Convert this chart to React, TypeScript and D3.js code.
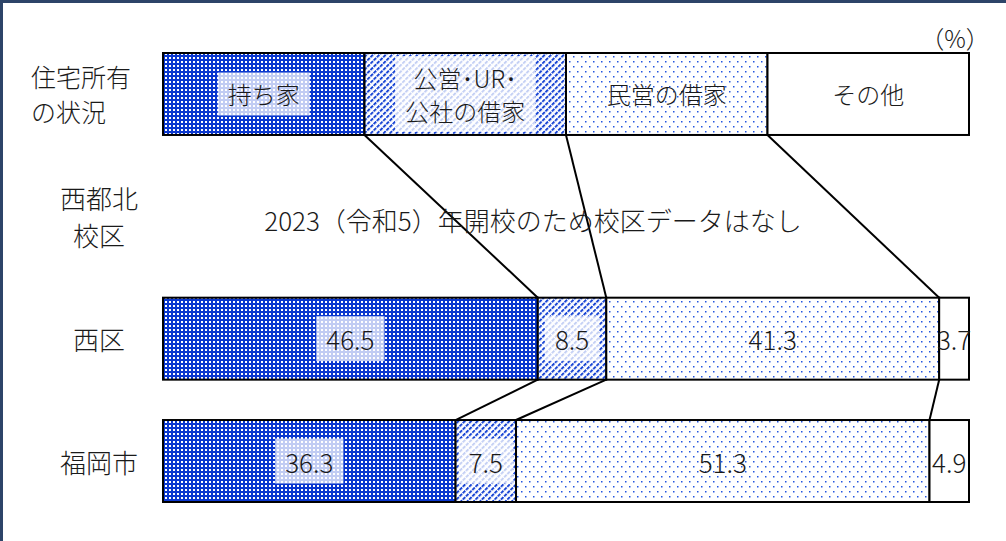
import React, { useRef, useEffect } from "react";
import { select, scaleLinear, scaleBand } from "d3";

// rows of the chart (top row is the legend row)
const categories = ["住宅所有の状況", "西都北校区", "西区", "福岡市"];
const categoryLines = [["住宅所有", "の状況"], ["西都北", "校区"], ["西区"], ["福岡市"]];
const tenures = ["持ち家", "公営・UR・公社の借家", "民営の借家", "その他"];
const tenureLines = [["持ち家"], ["公営･UR･", "公社の借家"], ["民営の借家"], ["その他"]];
const legendShares = [25, 25, 25, 25];
const nishiku = [46.5, 8.5, 41.3, 3.7];
const fukuokaShi = [36.3, 7.5, 51.3, 4.9];
const noDataNote = "2023（令和5）年開校のため校区データはなし";
const unitLabel = "（%）";

const FONT = "'Noto Sans CJK JP', 'Noto Sans', sans-serif";
const fills = ["url(#pOwn)", "url(#pPublic)", "url(#pPrivate)", "#ffffff"];
const boxed = [true, true, false, false];

function App() {
  const svgRef = useRef<SVGSVGElement>(null);

  useEffect(() => {
    const svg = select(svgRef.current);
    svg.selectAll("*").remove();

    const x = scaleLinear().domain([0, 100]).range([163, 969]);
    const y = scaleBand().domain(categories).range([53, 502]).paddingInner(0.33).paddingOuter(0);
    const bh = y.bandwidth();

    const defs = svg.append("defs");
    const own = defs.append("pattern").attr("id", "pOwn").attr("width", 4).attr("height", 4)
      .attr("patternUnits", "userSpaceOnUse");
    own.append("rect").attr("width", 4).attr("height", 4).attr("fill", "#0a37cf");
    own.append("rect").attr("x", 1).attr("y", 1).attr("width", 2).attr("height", 2).attr("fill", "#ffffff");

    const pub = defs.append("pattern").attr("id", "pPublic").attr("width", 4.5).attr("height", 4.5)
      .attr("patternUnits", "userSpaceOnUse").attr("patternTransform", "rotate(45)");
    pub.append("rect").attr("width", 4.5).attr("height", 4.5).attr("fill", "#ffffff");
    pub.append("line").attr("x1", 1).attr("x2", 1).attr("y1", 0).attr("y2", 4.5)
      .attr("stroke", "#1744d4").attr("stroke-width", 2).attr("stroke-dasharray", "3.5 1");

    const priv = defs.append("pattern").attr("id", "pPrivate").attr("width", 8).attr("height", 10)
      .attr("patternUnits", "userSpaceOnUse");
    priv.append("rect").attr("width", 8).attr("height", 10).attr("fill", "#ffffff");
    priv.append("rect").attr("x", 1).attr("y", 1).attr("width", 1.5).attr("height", 1.5).attr("fill", "#2356e0");
    priv.append("rect").attr("x", 5).attr("y", 6).attr("width", 1.5).attr("height", 1.5).attr("fill", "#2356e0");

    // frame
    svg.append("rect").attr("x", 1.5).attr("y", 1.5).attr("width", 1020).attr("height", 600)
      .attr("fill", "none").attr("stroke", "#2d4468").attr("stroke-width", 3);

    // stacked rows
    const rows = [
      { cat: categories[0], values: legendShares, legend: true },
      { cat: categories[2], values: nishiku, legend: false },
      { cat: categories[3], values: fukuokaShi, legend: false },
    ];
    const stacked = rows.map((r) => {
      let acc = 0;
      return {
        ...r,
        segs: r.values.map((v, i) => {
          const s = { i, v, x0: acc, x1: acc + v };
          acc += v;
          return s;
        }),
      };
    });

    // connector lines between consecutive bars
    for (let k = 0; k < stacked.length - 1; k++) {
      const a = stacked[k];
      const b = stacked[k + 1];
      for (let j = 0; j < 3; j++) {
        svg.append("line")
          .attr("x1", x(a.segs[j].x1)).attr("y1", (y(a.cat) as number) + bh)
          .attr("x2", x(b.segs[j].x1)).attr("y2", y(b.cat) as number)
          .attr("stroke", "#000").attr("stroke-width", 2);
      }
    }

    stacked.forEach((r) => {
      const g = svg.append("g");
      const top = y(r.cat) as number;
      g.selectAll("rect").data(r.segs).enter().append("rect")
        .attr("x", (d) => x(d.x0)).attr("y", top)
        .attr("width", (d) => x(d.x1) - x(d.x0)).attr("height", bh)
        .attr("fill", (d) => fills[d.i])
        .attr("stroke", "#000").attr("stroke-width", 2);

      r.segs.forEach((d) => {
        const cx = (x(d.x0) + x(d.x1)) / 2;
        const cy = top + bh / 2;
        const lines = r.legend ? tenureLines[d.i] : [String(d.v)];
        const lh = 33;
        const lg = g.append("g");
        const box = lg.append("rect");
        const t = lg.append("text").attr("font-family", FONT).attr("font-size", r.legend ? 24 : 26)
          .attr("font-weight", 300).attr("fill", "#1a1a1a").attr("text-anchor", "middle");
        lines.forEach((ln, li) => {
          t.append("tspan").attr("x", cx)
            .attr("y", cy + (li - (lines.length - 1) / 2) * lh)
            .attr("dominant-baseline", "central").text(ln);
        });
        if (boxed[d.i]) {
          const bb = (t.node() as SVGTextElement).getBBox();
          box.attr("x", bb.x - 10).attr("y", cy - bb.height / 2 - 4)
            .attr("width", bb.width + 20).attr("height", bb.height + 8)
            .attr("fill", "#ffffff").attr("fill-opacity", 0.75);
        } else box.remove();
      });
    });

    // category labels
    categoryLines.forEach((lines, i) => {
      const cy = (y(categories[i]) as number) + bh / 2;
      const lh = i === 0 ? 35 : 37;
      const t = svg.append("text").attr("font-family", FONT).attr("font-size", i === 0 ? 25 : 26)
        .attr("font-weight", 300).attr("fill", "#1a1a1a").attr("text-anchor", i === 0 ? "start" : "middle");
      lines.forEach((ln, li) => {
        t.append("tspan").attr("x", i === 0 ? 31 : 99)
          .attr("y", cy + (li - (lines.length - 1) / 2) * lh)
          .attr("dominant-baseline", "central").text(ln);
      });
    });

    // no-data note
    svg.append("text").attr("x", 533).attr("y", (y(categories[1]) as number) + bh / 2 + 3)
      .attr("font-family", FONT).attr("font-size", 26).attr("font-weight", 300).attr("fill", "#1a1a1a")
      .attr("text-anchor", "middle").attr("dominant-baseline", "central").text(noDataNote);

    svg.append("text").attr("x", 955).attr("y", 37)
      .attr("font-family", FONT).attr("font-size", 24).attr("font-weight", 300).attr("fill", "#1a1a1a")
      .attr("text-anchor", "middle").attr("dominant-baseline", "central").text(unitLabel);
  }, []);

  return (
    <svg
      ref={svgRef}
      width={1006}
      height={541}
      style={{ position: "absolute", left: 0, top: 0, backgroundColor: "#ffffff" }}
    ></svg>
  );
}

export default App;
